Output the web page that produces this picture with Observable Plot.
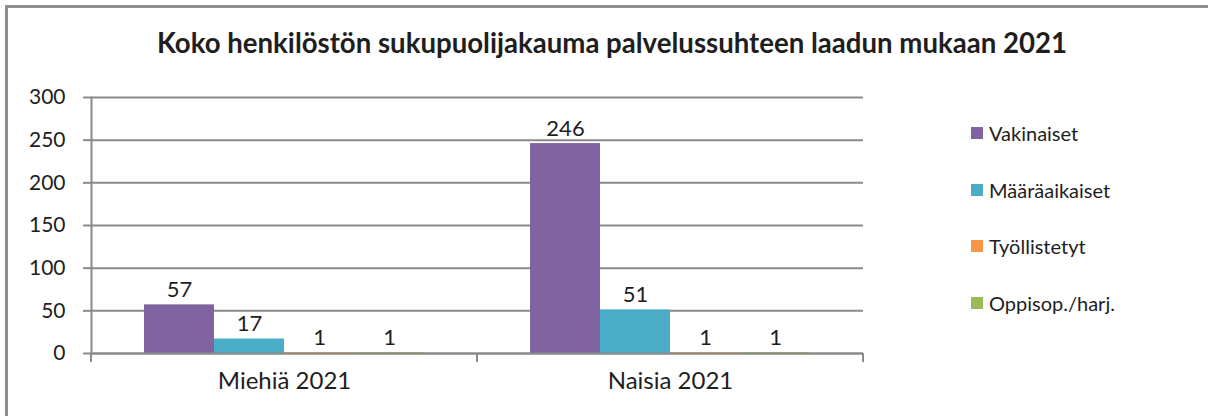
<!DOCTYPE html>
<html>
<head>
<meta charset="utf-8">
<script src="https://cdn.jsdelivr.net/npm/d3@7"></script>
<script src="https://cdn.jsdelivr.net/npm/@observablehq/plot@0.6"></script>
<style>
  html, body { margin: 0; padding: 0; background: #fff; }
  body { width: 1208px; height: 416px; position: relative; overflow: hidden; font-family: Lato, "Open Sans", sans-serif; color: #1e1e1e; }
  #frame { position: absolute; left: 5px; top: 5px; width: 1220px; height: 430px; border-left: 3px solid #8e8e8e; border-top: 3px solid #8e8e8e; box-sizing: border-box; }
  #title { position: absolute; left: 16px; width: 1192px; top: 26px; text-align: center; font-weight: 700; font-size: 27.6px; line-height: 34px; white-space: nowrap; }
  #chart { position: absolute; left: 0; top: 80px; }
  #legend { position: absolute; left: 971px; top: 0; }
  .item { position: absolute; left: 0; white-space: nowrap; font-size: 20px; line-height: 20px; }
  .sw { position: absolute; left: 0; top: 4px; width: 12px; height: 12px; }
  .lab { position: absolute; left: 18px; top: 0; }
</style>
</head>
<body>
<div id="frame"></div>
<div id="title">Koko henkilöstön sukupuolijakauma palvelussuhteen laadun mukaan 2021</div>
<div id="chart"></div>
<div id="legend"></div>
<script>
const groups = ["Miehiä 2021", "Naisia 2021"];
const series = ["Vakinaiset", "Määräaikaiset", "Työllistetyt", "Oppisop./harj."];
const miehia = [57, 17, 1, 1];
const naisia = [246, 51, 1, 1];
const colors = ["#8064A2", "#4BACC6", "#F79646", "#9BBB59"];
const yTicks = [0, 50, 100, 150, 200, 250, 300];

const valuesByGroup = [miehia, naisia];
const data = groups.flatMap((g, gi) => series.map((s, si) => ({group: g, series: s, value: valuesByGroup[gi][si]})));

const GRID = "#8a8a8a";

function edgeTicks(index, scales) {
  const [r0, r1] = scales.x.range();
  const y0 = scales.y(0);
  const g = d3.create("svg:g").attr("stroke", GRID).attr("stroke-width", 2);
  for (const rx of [r0, r1]) g.append("line").attr("x1", rx).attr("x2", rx).attr("y1", y0).attr("y2", y0 + 9);
  return g.node();
}

const marks = [
  Plot.gridY(yTicks, {stroke: GRID, strokeOpacity: 1, strokeWidth: 2}),
  Plot.axisY(yTicks, {tickSize: 8, tickPadding: 18, stroke: GRID, strokeWidth: 2, strokeOpacity: 1, fontSize: 21, fill: "#1e1e1e", label: null}),
  Plot.barY(data, {fx: "group", x: "series", y: "value", fill: "series"}),
  Plot.ruleY([0], {stroke: GRID, strokeWidth: 2}),
  Plot.text(data, {fx: "group", x: "series", y: "value", text: d => String(d.value), lineAnchor: "bottom", dy: -8, fontSize: 22, fill: "#1e1e1e"}),
  Plot.axisFx({anchor: "bottom", tickSize: 0, tickPadding: 18, fontSize: 24, fill: "#1e1e1e", label: null}),
  edgeTicks,
  Plot.frame({anchor: "left", facetAnchor: "left", stroke: GRID, strokeWidth: 2})
];

const chart = Plot.plot({
  width: 1208,
  height: 336,
  marginLeft: 90,
  marginRight: 345,
  marginTop: 17,
  marginBottom: 63,
  style: {fontFamily: "Lato, 'Open Sans', sans-serif", background: "transparent", overflow: "visible"},
  fx: {domain: groups, padding: 0, label: null, axis: null},
  x: {domain: series, paddingInner: 0, paddingOuter: 0.757, axis: null},
  y: {domain: [0, 300], axis: null},
  color: {domain: series, range: colors},
  marks
});
document.getElementById("chart").append(chart);

const legend = document.getElementById("legend");
series.forEach((s, i) => {
  const item = document.createElement("div");
  item.className = "item";
  item.style.top = (123 + i * 56.5) + "px";
  const sw = document.createElement("div");
  sw.className = "sw";
  sw.style.background = colors[i];
  const lab = document.createElement("div");
  lab.className = "lab";
  lab.textContent = s;
  item.append(sw, lab);
  legend.append(item);
});
</script>
</body>
</html>
